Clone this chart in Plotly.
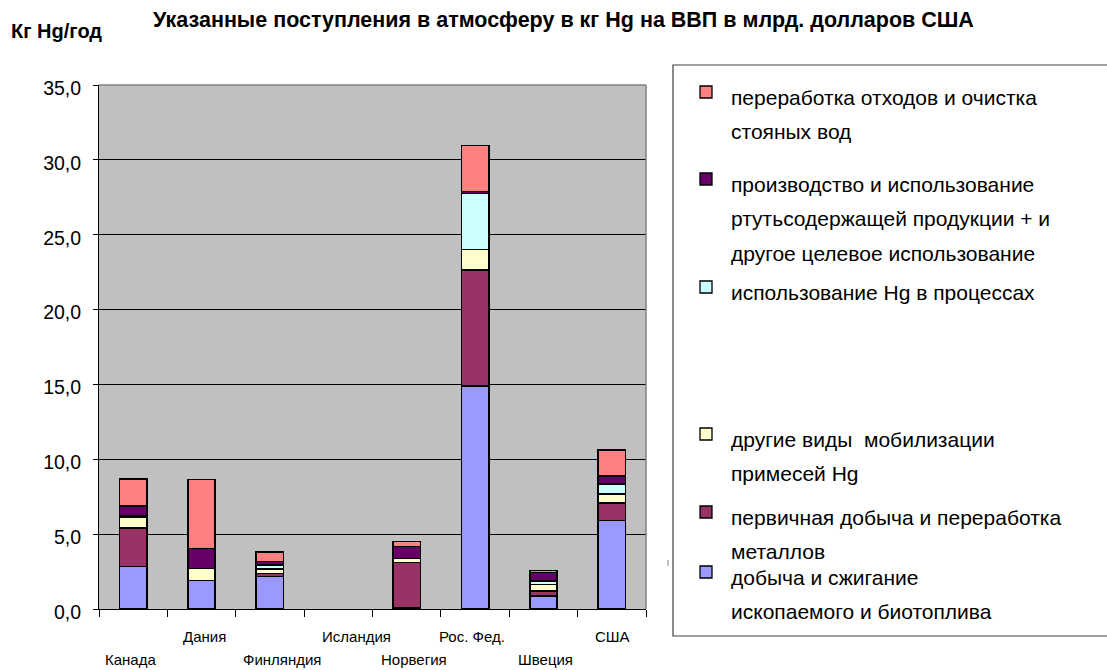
import plotly.graph_objects as go

# Countries on the category axis
countries = ["Канада", "Дания", "Финляндия", "Исландия", "Норвегия", "Рос. Фед.", "Швеция", "США"]

# Emission sources, kg Hg per billion USD of GDP (stacked bottom to top)
fossil_fuels = [2.85, 1.90, 2.17, 0.0, 0.10, 14.90, 0.85, 5.90]
metals = [2.55, 0.00, 0.20, 0.0, 3.00, 7.75, 0.37, 1.20]
other_mobilisation = [0.75, 0.80, 0.30, 0.0, 0.27, 1.35, 0.43, 0.58]
process_use = [0.05, 0.00, 0.25, 0.0, 0.00, 3.75, 0.23, 0.67]
products = [0.70, 1.35, 0.25, 0.0, 0.80, 0.15, 0.57, 0.53]
waste = [1.80, 4.60, 0.65, 0.0, 0.33, 3.05, 0.12, 1.75]

series = [
    ("добыча и сжигание ископаемого и биотоплива", fossil_fuels, "#9999FF"),
    ("первичная добыча и переработка металлов", metals, "#993366"),
    ("другие виды мобилизации примесей Hg", other_mobilisation, "#FFFFCC"),
    ("использование Hg в процессах", process_use, "#CCFFFF"),
    ("производство и использование ртутьсодержащей продукции", products, "#660066"),
    ("переработка отходов и очистка стояных вод", waste, "#FF8080"),
]

# Legend entries: colour, text lines and pixel row of the first line
legend_items = [
    ("#FF8080", ["переработка отходов и очистка", "стояных вод"], 97),
    ("#660066", ["производство и использование", "ртутьсодержащей продукции + и",
                 "другое целевое использование"], 184),
    ("#CCFFFF", ["использование Hg в процессах"], 292),
    ("#FFFFCC", ["другие виды  мобилизации", "примесей Hg"], 439),
    ("#993366", ["первичная добыча и переработка", "металлов"], 517),
    ("#9999FF", ["добыча и сжигание", "ископаемого и биотоплива"], 577),
]

W, H = 1107, 670
L, R, T, B = 99, 646, 85, 609

# horizontal nudge of each category label (px) and its row
label_shift = [-3, 3, 12, 18, 7, -3, 2, 1]
label_row = [659, 636, 659, 636, 659, 636, 659, 636]


def px(x):
    return (x - L) / (R - L)


def py(y):
    return (B - y) / (B - T)


FONT = "Liberation Sans, Arial, sans-serif"

fig = go.Figure()
for name, vals, color in series:
    # empty segments are left out so no outline is drawn for them
    fig.add_trace(go.Bar(
        x=countries, y=[v if v > 0 else None for v in vals], name=name,
        marker=dict(color=color, line=dict(color="black", width=1.6)),
        showlegend=False,
    ))

fig.update_layout(
    width=W, height=H,
    barmode="stack", bargap=0.6,
    margin=dict(l=L, r=W - R, t=T, b=H - B),
    paper_bgcolor="white",
    plot_bgcolor="#C0C0C0",
    separators=", ",
    font=dict(family=FONT, color="black"),
)

fig.update_yaxes(
    range=[0, 35], dtick=5, tickformat=".1f",
    showgrid=True, gridcolor="black", gridwidth=1,
    showline=True, linecolor="black", linewidth=1,
    ticks="outside", ticklen=5, tickcolor="black",
    ticklabelstandoff=8, ticklabelshift=3,
    tickfont=dict(size=19.5, family=FONT),
    zeroline=False,
)
fig.update_xaxes(
    showticklabels=False,
    tickson="boundaries", ticks="outside", ticklen=7, tickcolor="black",
    showline=True, linecolor="black", linewidth=1,
    showgrid=False,
)

# Plot-area outline on top and right
fig.add_shape(type="line", xref="paper", yref="paper", x0=0, x1=1, y0=1, y1=1,
              line=dict(color="#808080", width=1.5))
fig.add_shape(type="line", xref="paper", yref="paper", x0=1, x1=1, y0=0, y1=1,
              line=dict(color="#808080", width=1.5))

# Category labels staggered on two rows
for c, dx, row in zip(countries, label_shift, label_row):
    fig.add_annotation(x=c, xref="x", y=py(row), yref="paper", xshift=dx,
                       text=c, showarrow=False, font=dict(size=15, family=FONT),
                       xanchor="center", yanchor="middle")

# Titles
fig.add_annotation(x=px(563), y=py(20), xref="paper", yref="paper",
                   text="<b>Указанные поступления в атмосферу в кг Hg на ВВП в млрд. долларов США</b>",
                   showarrow=False, font=dict(size=21.5, family=FONT),
                   xanchor="center", yanchor="middle")
fig.add_annotation(x=px(9), y=py(31), xref="paper", yref="paper",
                   text="<b>Кг Hg/год</b>", showarrow=False,
                   font=dict(size=20, family=FONT), xanchor="left", yanchor="middle")

# Legend box
fig.add_shape(type="rect", xref="paper", yref="paper",
              x0=px(673), x1=px(1112), y0=py(636), y1=py(65),
              line=dict(color="#404040", width=1.2), fillcolor="white")

for color, lines, tc in legend_items:
    fig.add_shape(type="rect", xref="paper", yref="paper",
                  x0=px(700), x1=px(712), y0=py(tc - 11), y1=py(tc + 1),
                  line=dict(color="black", width=1.3), fillcolor=color)
    for k, line in enumerate(lines):
        fig.add_annotation(x=px(729), y=py(tc + 34.5 * k), xref="paper", yref="paper",
                           text=line, showarrow=False,
                           font=dict(size=21, family=FONT),
                           xanchor="left", yanchor="middle")

# small stray tick left of the legend box
fig.add_shape(type="line", xref="paper", yref="paper",
              x0=px(668), x1=px(668), y0=py(560), y1=py(566),
              line=dict(color="#808080", width=1))

fig.write_html("out.html")
